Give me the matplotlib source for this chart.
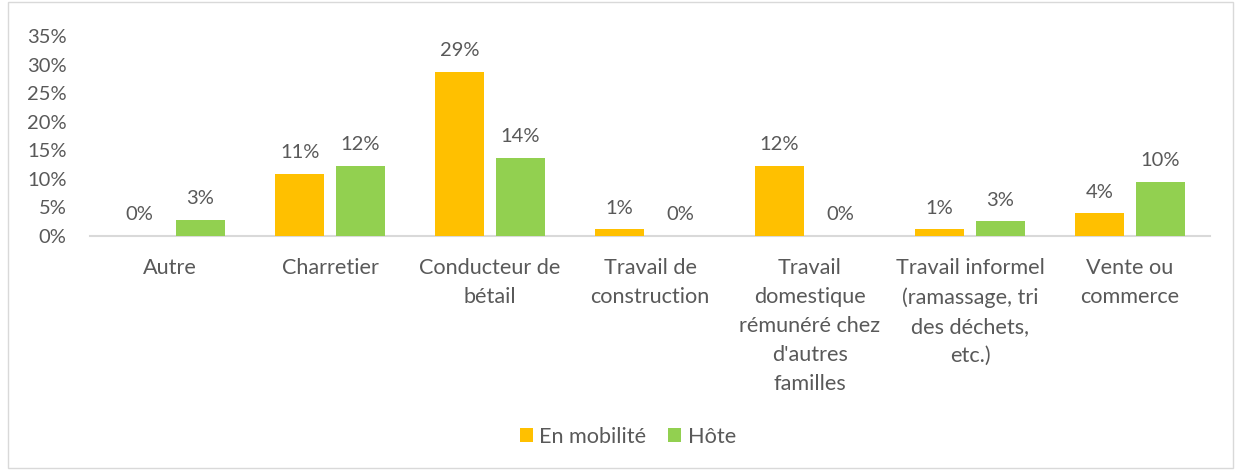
import matplotlib
matplotlib.use("Agg")
import matplotlib.pyplot as plt
import numpy as np
from matplotlib.patches import Rectangle

categories = ["Autre", "Charretier", "Conducteur de\nbétail", "Travail de\nconstruction",
              "Travail\ndomestique\nrémunéré chez\nd'autres\nfamilles",
              "Travail informel\n(ramassage, tri\ndes déchets,\netc.)", "Vente ou\ncommerce"]
mobilite = [0.0, 10.9, 28.7, 1.2, 12.3, 1.2, 4.0]
hote = [2.8, 12.3, 13.7, 0.0, 0.0, 2.6, 9.5]
mob_labels = ["0%", "11%", "29%", "1%", "12%", "1%", "4%"]
hote_labels = ["3%", "12%", "14%", "0%", "0%", "3%", "10%"]
series_names = ["En mobilité", "Hôte"]

plt.rcParams['font.family'] = ['Lato', 'DejaVu Sans']
TXT = "#595959"
C_MOB = "#FFC000"
C_HOTE = "#92D050"
FS = 14.5
FS_CAT = 15.6

fig = plt.figure(figsize=(12.35, 4.70), dpi=100)
ax = fig.add_axes([90/1235, 1-236/470, (1210-90)/1235, 200/470])

x = np.arange(len(categories))
w = 0.31
off = 0.19
b1 = ax.bar(x - off, mobilite, w, color=C_MOB, label=series_names[0], zorder=3)
b2 = ax.bar(x + off, hote, w, color=C_HOTE, label=series_names[1], zorder=3)

for bars, labs in ((b1, mob_labels), (b2, hote_labels)):
    for rect, lab in zip(bars, labs):
        ax.annotate(lab, (rect.get_x() + rect.get_width()/2, rect.get_height()),
                    xytext=(0, 9), textcoords="offset points", ha="center", va="bottom",
                    fontsize=FS, color=TXT)

ax.set_xlim(-0.5, len(categories) - 0.5)
ax.set_ylim(0, 35)
yt = np.arange(0, 36, 5)
ax.set_yticks(yt)
ax.set_yticklabels([f"{v}%" for v in yt], fontsize=FS, color=TXT)
ax.set_xticks(x)
ax.set_xticklabels(categories, fontsize=FS_CAT, color=TXT, linespacing=1.56, va="top")
ax.tick_params(axis="both", length=0)
ax.tick_params(axis="x", pad=16)
ax.tick_params(axis="y", pad=17)
for s in ["top", "right", "left"]:
    ax.spines[s].set_visible(False)
ax.spines["bottom"].set_color("#d9d9d9")
ax.spines["bottom"].set_linewidth(1.5)

leg = fig.legend(handles=[b1, b2], labels=series_names, loc="center",
                 bbox_to_anchor=(628/1235, 1-437/470), ncol=2, frameon=False,
                 fontsize=FS_CAT, handlelength=0.6, handleheight=0.6,
                 handletextpad=0.3, columnspacing=1.0)
for t in leg.get_texts():
    t.set_color(TXT)

fig.patches.append(Rectangle((8/1235, 2/470), 1225/1235, 466/470, transform=fig.transFigure,
                             fill=False, edgecolor="#d9d9d9", linewidth=1))

fig.savefig("out.png", dpi=100)
